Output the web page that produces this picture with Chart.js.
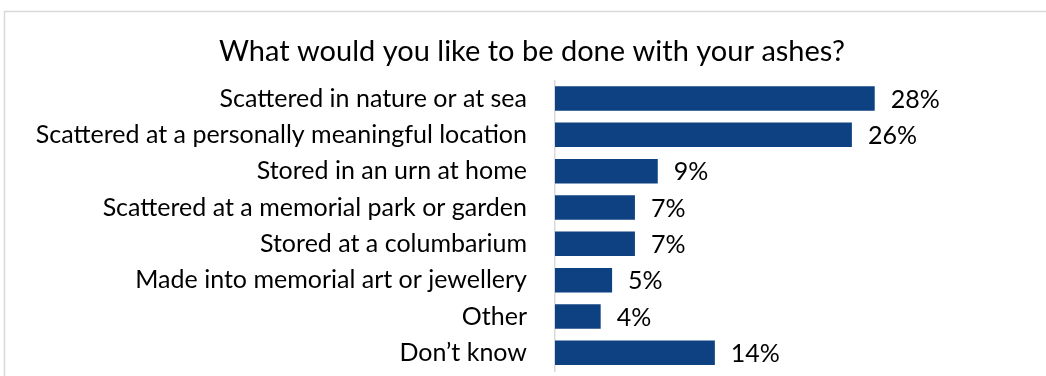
<!DOCTYPE html>
<html>
<head>
<meta charset="utf-8">
<script src="https://cdn.jsdelivr.net/npm/chart.js@4/dist/chart.umd.min.js"></script>
<style>
  html, body { margin: 0; padding: 0; background: #ffffff; }
  #wrap { position: relative; width: 1046px; height: 376px; }
</style>
</head>
<body>
<div id="wrap"><canvas id="ashes" width="1046" height="376"></canvas></div>
<script>
// Survey question and answers
const chartTitle = 'What would you like to be done with your ashes?';
const categories = [
  'Scattered in nature or at sea',
  'Scattered at a personally meaningful location',
  'Stored in an urn at home',
  'Scattered at a memorial park or garden',
  'Stored at a columbarium',
  'Made into memorial art or jewellery',
  'Other',
  'Don\u2019t know'
];
// Share of respondents, percent
const shares = [28, 26, 9, 7, 7, 5, 4, 14];

const BAR_COLOR = '#0d4181';
const TEXT_COLOR = '#000000';
const FONT = 'Lato, "Open Sans", sans-serif';
const LABEL_SIZE = 25;

// Light frame around the chart
const framePlugin = {
  id: 'frame',
  beforeDraw(chart) {
    const ctx = chart.ctx;
    ctx.save();
    ctx.strokeStyle = '#d9d9d9';
    ctx.lineWidth = 1.5;
    ctx.beginPath();
    ctx.moveTo(4.5, chart.height);
    ctx.lineTo(4.5, 11.5);
    ctx.lineTo(chart.width, 11.5);
    ctx.stroke();
    ctx.restore();
  }
};

// Percentage labels just past the end of each bar
const valueLabelPlugin = {
  id: 'valueLabels',
  afterDatasetsDraw(chart) {
    const ctx = chart.ctx;
    const meta = chart.getDatasetMeta(0);
    ctx.save();
    ctx.font = LABEL_SIZE + 'px ' + FONT;
    ctx.fillStyle = TEXT_COLOR;
    ctx.textAlign = 'left';
    ctx.textBaseline = 'middle';
    meta.data.forEach((bar, i) => {
      ctx.fillText(shares[i] + '%', bar.x + 16, bar.y + 1);
    });
    ctx.restore();
  }
};

new Chart(document.getElementById('ashes'), {
  type: 'bar',
  data: {
    labels: categories,
    datasets: [{
      data: shares,
      backgroundColor: BAR_COLOR,
      borderWidth: 0,
      categoryPercentage: 1,
      barPercentage: 0.675
    }]
  },
  options: {
    indexAxis: 'y',
    responsive: false,
    animation: false,
    layout: { padding: { left: 18, right: 0, top: 0, bottom: 5 } },
    plugins: {
      legend: { display: false },
      tooltip: { enabled: false },
      title: {
        display: true,
        text: chartTitle,
        color: TEXT_COLOR,
        font: { family: FONT, size: 29, weight: 'normal' },
        padding: { top: 34, bottom: 11.5 }
      }
    },
    scales: {
      x: { display: false, min: 0, max: 43 },
      y: {
        grid: { display: false, drawTicks: false },
        border: { display: true, color: '#d9d9d9', width: 1.5 },
        ticks: {
          color: TEXT_COLOR,
          font: { family: FONT, size: LABEL_SIZE },
          padding: 28,
          autoSkip: false
        },
        afterFit(scale) {
          scale.width = 555 - 18;
          scale.paddingTop = 0;
          scale.paddingBottom = 0;
        }
      }
    }
  },
  plugins: [framePlugin, valueLabelPlugin]
});
</script>
</body>
</html>
